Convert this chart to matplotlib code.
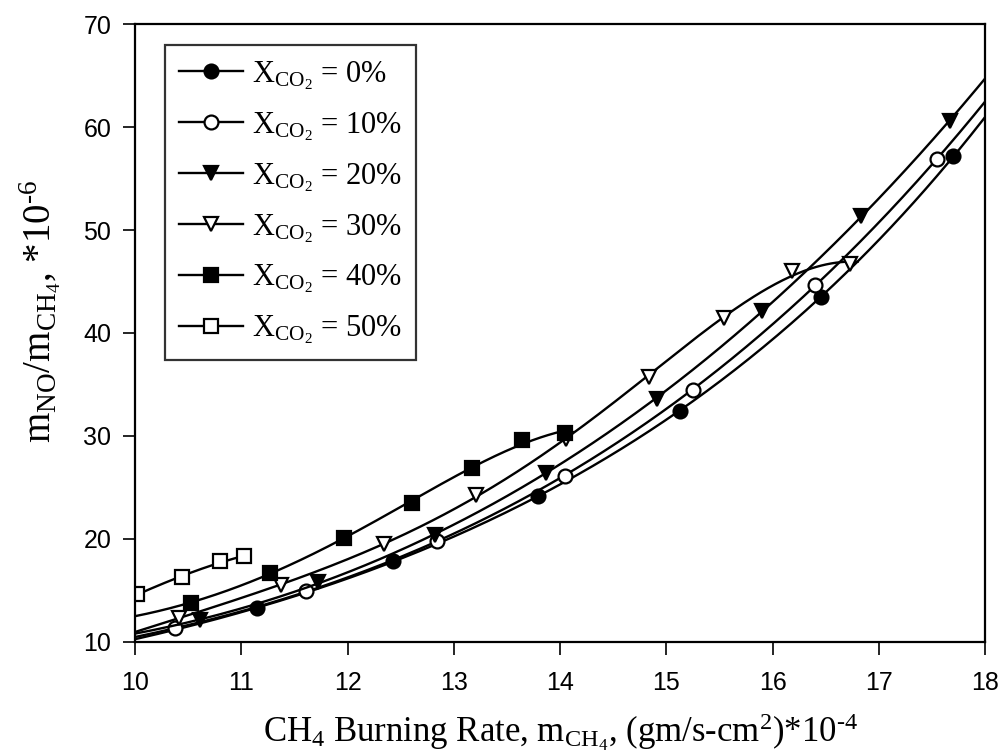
import numpy as np
import matplotlib
matplotlib.use('Agg')
import matplotlib.pyplot as plt

plt.rcParams['mathtext.fontset'] = 'custom'
plt.rcParams['mathtext.rm'] = 'Liberation Serif'
plt.rcParams['mathtext.it'] = 'Liberation Serif:italic'

# CH4 burning rate (*10^-4) and NO/CH4 mass ratio (*10^-6)
x_co2_0 = [11.15, 12.43, 13.79, 15.13, 16.46, 17.70]
y_co2_0 = [13.3, 17.8, 24.2, 32.4, 43.5, 57.2]

x_co2_10 = [10.38, 11.61, 12.84, 14.05, 15.25, 16.40, 17.55]
y_co2_10 = [11.3, 14.9, 19.8, 26.1, 34.5, 44.7, 56.9]

x_co2_20 = [10.61, 11.72, 12.82, 13.87, 14.91, 15.90, 16.83, 17.67]
y_co2_20 = [12.1, 15.8, 20.4, 26.4, 33.6, 42.1, 51.4, 60.6]

x_co2_30 = [10.41, 11.37, 12.34, 13.21, 14.06, 14.84, 15.54, 16.18, 16.73]
y_co2_30 = [12.3, 15.5, 19.5, 24.3, 29.7, 35.7, 41.5, 46.0, 46.7]

x_co2_40 = [10.53, 11.27, 11.97, 12.61, 13.17, 13.64, 14.05]
y_co2_40 = [13.8, 16.7, 20.1, 23.5, 26.9, 29.6, 30.3]

x_co2_50 = [10.02, 10.44, 10.80, 11.03]
y_co2_50 = [14.6, 16.3, 17.8, 18.3]

labels = ['0%', '10%', '20%', '30%', '40%', '50%']

# marker, face colour, fit degree, fit on log(y)?, end of fitted curve
series = [
    (x_co2_0, y_co2_0, 'o', 'k', 2, True, 18.0),
    (x_co2_10, y_co2_10, 'o', 'w', 3, False, 18.0),
    (x_co2_20, y_co2_20, 'v', 'k', 3, False, 18.0),
    (x_co2_30, y_co2_30, 'v', 'w', 4, True, 16.8),
    (x_co2_40, y_co2_40, 's', 'k', 3, True, 14.05),
    (x_co2_50, y_co2_50, 's', 'w', 2, True, 11.03),
]

fig = plt.figure(figsize=(10.03, 7.55), dpi=100)
ax = fig.add_axes([0.1346, 0.150, 0.8475, 0.818])

for (xs, ys, mk, fc, deg, uselog, xend), lab in zip(series, labels):
    xstart = min(10.0, xs[0])
    xf = np.linspace(xstart, xend, 300)
    if uselog:
        yf = np.exp(np.polyval(np.polyfit(xs, np.log(ys), deg), xf))
    else:
        yf = np.polyval(np.polyfit(xs, ys, deg), xf)
    ax.plot(xf, yf, color='k', lw=1.7)
    ax.plot(xs, ys, linestyle='none', marker=mk, ms=10, mfc=fc, mec='k', mew=1.6)
    # legend proxy
    ax.plot([], [], color='k', lw=1.7, marker=mk, ms=10, mfc=fc, mec='k', mew=1.6,
            label=r'$\mathrm{X_{CO_2}}$ = ' + lab)

ax.set_xlim(10, 18)
ax.set_ylim(10, 70)
ax.set_xticks(range(10, 19))
ax.set_yticks(range(10, 71, 10))
ax.tick_params(direction='out', length=9, width=1.2, labelsize=18, pad=8)
ax.tick_params(axis='x', pad=12)
for lbl in ax.get_xticklabels() + ax.get_yticklabels():
    lbl.set_family('Liberation Sans')
for s in ax.spines.values():
    s.set_linewidth(1.6)

ax.set_xlabel(r'CH$_4$ Burning Rate, m$_{\mathrm{CH_4}}$, (gm/s-cm$^2$)*10$^{\text{-4}}$',
              family='Liberation Serif', fontsize=25, labelpad=12)
ax.set_ylabel(r'm$_{\mathrm{NO}}$/m$_{\mathrm{CH_4}}$, *10$^{\text{-6}}$',
              family='Liberation Serif', fontsize=28)
ax.yaxis.set_label_coords(-0.085, 0.535)

leg = ax.legend(loc='upper left', bbox_to_anchor=(0.035, 0.966), borderaxespad=0,
                frameon=True, fancybox=False, edgecolor='k',
                prop={'family': 'Liberation Serif', 'size': 22},
                handlelength=2.1, labelspacing=0.6, borderpad=0.45, handletextpad=0.3)
leg.get_frame().set_linewidth(1.6)

fig.savefig('out.png', dpi=100)
